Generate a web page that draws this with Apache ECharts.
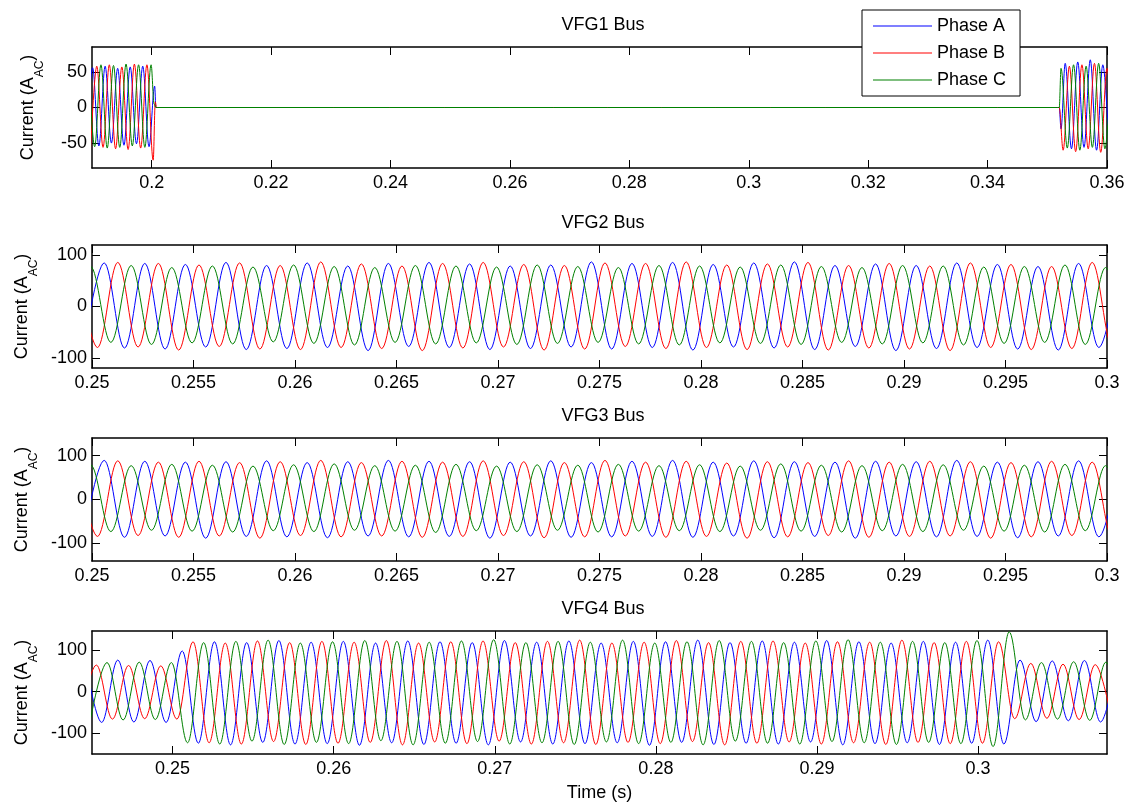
<!DOCTYPE html>
<html>
<head>
<meta charset="utf-8">
<title>VFG bus currents</title>
<script src="https://cdn.jsdelivr.net/npm/echarts@6/dist/echarts.min.js"></script>
<style>
  html, body { margin: 0; padding: 0; background: #fff; }
  #chart { width: 1128px; height: 803px; }
</style>
</head>
<body>
<div id="chart"></div>
<script>
// ---- traces: extremum times (s) and currents (A) ----

// VFG1 bus: burst until ~0.2007 s, flat, burst again from ~0.352 s
const vfg1TimeA = [0.18905, 0.1901, 0.19115, 0.1922, 0.19325, 0.1943, 0.19535, 0.1964, 0.19745, 0.1985,
  0.19955, 0.2005, 0.2007, 0.2010, 0.3517, 0.3520, 0.3523, 0.3530, 0.35405, 0.3551,
  0.35615, 0.3572, 0.35825, 0.3593, 0.36035];
const vfg1A = [-52, 56, -54, 58, -50, 55, -53, 57, -51, 58,
  -55, 30, 0, 0, 0, 0, -30, 62, -58, 64,
  -56, 67, -60, 60, -55];
const vfg1TimeB = [0.18975, 0.1908, 0.19185, 0.1929, 0.19395, 0.1950, 0.19605, 0.1971, 0.19815, 0.1992,
  0.20025, 0.2006, 0.2008, 0.2010, 0.3517, 0.3520, 0.35265, 0.3537, 0.35475, 0.3558,
  0.35685, 0.3579, 0.35895, 0.3600, 0.36105];
const vfg1B = [-60, 58, -56, 60, -58, 57, -59, 61, -57, 60,
  -74, 8, 0, 0, 0, 0, -60, 58, -62, 60,
  -58, 62, -63, 55, -56];
const vfg1TimeC = [0.1894, 0.19045, 0.1915, 0.19255, 0.1936, 0.19465, 0.1957, 0.19675, 0.1978, 0.19885,
  0.1999, 0.2004, 0.2007, 0.2010, 0.3517, 0.3520, 0.3523, 0.35335, 0.3544, 0.35545,
  0.3565, 0.35755, 0.3586, 0.35965, 0.3607];
const vfg1C = [58, -55, 60, -57, 59, -56, 61, -54, 60, -56,
  60, 5, 0, 0, 0, 0, 55, -57, 60, -60,
  58, -56, 62, -58, 55];

// VFG2 / VFG3 buses share the same timing
const vfg23TimeA = [0.2496, 0.2506, 0.2516, 0.2526, 0.2536, 0.2546, 0.2556, 0.2566, 0.2576, 0.2586,
  0.2596, 0.2606, 0.2616, 0.2626, 0.2636, 0.2646, 0.2656, 0.2666, 0.2676, 0.2686,
  0.2696, 0.2706, 0.2716, 0.2726, 0.2736, 0.2746, 0.2756, 0.2766, 0.2776, 0.2786,
  0.2796, 0.2806, 0.2816, 0.2826, 0.2836, 0.2846, 0.2856, 0.2866, 0.2876, 0.2886,
  0.2896, 0.2906, 0.2916, 0.2926, 0.2936, 0.2946, 0.2956, 0.2966, 0.2976, 0.2986,
  0.2996, 0.3006];
const vfg23TimeB = [0.24927, 0.25027, 0.25127, 0.25227, 0.25327, 0.25427, 0.25527, 0.25627, 0.25727, 0.25827,
  0.25927, 0.26027, 0.26127, 0.26227, 0.26327, 0.26427, 0.26527, 0.26627, 0.26727, 0.26827,
  0.26927, 0.27027, 0.27127, 0.27227, 0.27327, 0.27427, 0.27527, 0.27627, 0.27727, 0.27827,
  0.27927, 0.28027, 0.28127, 0.28227, 0.28327, 0.28427, 0.28527, 0.28627, 0.28727, 0.28827,
  0.28927, 0.29027, 0.29127, 0.29227, 0.29327, 0.29427, 0.29527, 0.29627, 0.29727, 0.29827,
  0.29927, 0.30027, 0.30127];
const vfg23TimeC = [0.24893, 0.24993, 0.25093, 0.25193, 0.25293, 0.25393, 0.25493, 0.25593, 0.25693, 0.25793,
  0.25893, 0.25993, 0.26093, 0.26193, 0.26293, 0.26393, 0.26493, 0.26593, 0.26693, 0.26793,
  0.26893, 0.26993, 0.27093, 0.27193, 0.27293, 0.27393, 0.27493, 0.27593, 0.27693, 0.27793,
  0.27893, 0.27993, 0.28093, 0.28193, 0.28293, 0.28393, 0.28493, 0.28593, 0.28693, 0.28793,
  0.28893, 0.28993, 0.29093, 0.29193, 0.29293, 0.29393, 0.29493, 0.29593, 0.29693, 0.29793,
  0.29893, 0.29993, 0.30093];

const vfg2A = [-80, 85, -81, 84, -83, 82, -79, 86, -84, 80,
  -82, 85, -80, 79, -86, 84, -78, 86, -80, 83,
  -84, 79, -82, 81, -79, 87, -83, 84, -80, 86,
  -85, 82, -79, 85, -81, 87, -84, 80, -78, 83,
  -86, 80, -82, 85, -80, 82, -83, 78, -85, 84,
  -80, 82];
const vfg2B = [82, -80, 86, -79, 84, -85, 81, -78, 85, -83,
  80, -84, 87, -80, 83, -82, 79, -86, 84, -81,
  86, -79, 82, -85, 80, -83, 85, -78, 84, -82,
  87, -80, 81, -84, 83, -79, 86, -85, 80, -81,
  84, -83, 79, -86, 85, -80, 82, -84, 78, -82,
  86, -79, 83];
const vfg2C = [-72, 78, -70, 80, -74, 76, -71, 79, -73, 77,
  -69, 81, -72, 78, -75, 76, -70, 80, -73, 79,
  -71, 77, -74, 81, -72, 78, -70, 76, -73, 80,
  -75, 79, -71, 77, -72, 81, -74, 78, -70, 76,
  -73, 80, -71, 79, -75, 77, -72, 78, -70, 81,
  -74, 76, -72];

const vfg3A = [-84, 89, -86, 87, -83, 85, -88, 86, -84, 88,
  -85, 84, -87, 86, -83, 89, -85, 87, -84, 86,
  -88, 85, -83, 88, -86, 84, -85, 87, -84, 89,
  -86, 85, -83, 88, -87, 86, -84, 85, -88, 87,
  -83, 86, -85, 89, -84, 85, -87, 86, -83, 88,
  -85, 84];
const vfg3B = [86, -84, 88, -82, 85, -86, 87, -83, 84, -88,
  86, -82, 89, -85, 84, -83, 87, -86, 85, -84,
  88, -82, 86, -87, 84, -85, 89, -83, 85, -86,
  87, -84, 83, -88, 86, -85, 84, -82, 88, -86,
  85, -84, 87, -83, 86, -88, 84, -85, 87, -82,
  85, -86, 84];
const vfg3C = [-71, 79, -73, 77, -70, 80, -72, 78, -74, 76,
  -71, 79, -73, 81, -70, 77, -72, 78, -75, 80,
  -71, 76, -73, 79, -70, 78, -74, 80, -72, 77,
  -71, 79, -73, 76, -70, 81, -72, 78, -74, 77,
  -71, 80, -73, 79, -70, 76, -72, 78, -74, 80,
  -71, 77, -73];

// VFG4 bus: load step up at ~0.2505 s, back down at ~0.302 s
const vfg4TimeA = [0.2446, 0.2456, 0.2466, 0.2476, 0.2486, 0.2496, 0.2506, 0.2516, 0.2526, 0.2536,
  0.2546, 0.2556, 0.2566, 0.2576, 0.2586, 0.2596, 0.2606, 0.2616, 0.2626, 0.2636,
  0.2646, 0.2656, 0.2666, 0.2676, 0.2686, 0.2696, 0.2706, 0.2716, 0.2726, 0.2736,
  0.2746, 0.2756, 0.2766, 0.2776, 0.2786, 0.2796, 0.2806, 0.2816, 0.2826, 0.2836,
  0.2846, 0.2856, 0.2866, 0.2876, 0.2886, 0.2896, 0.2906, 0.2916, 0.2926, 0.2936,
  0.2946, 0.2956, 0.2966, 0.2976, 0.2986, 0.2996, 0.3006, 0.3016, 0.3026, 0.3036,
  0.3046, 0.3056, 0.3066, 0.3076, 0.3086];
const vfg4A = [72, -74, 76, -73, 75, -74, 98,
  -124, 120, -128, 118, -122, 123, -126, 119, -125, 121,
  -129, 117, -123, 122, -127, 120, -124, 118, -128, 123,
  -121, 119, -126, 122, -125, 117, -123, 121, -129, 120,
  -122, 124, -127, 118, -124, 122, -126, 119, -121, 123,
  -128, 120, -125, 117, -123, 121, -127, 119, -124, 124,
  -126,
  76, -72, 74, -70, 75, -73, 70];
const vfg4TimeB = [0.24427, 0.24527, 0.24627, 0.24727, 0.24827, 0.24927, 0.25027, 0.25127, 0.25227, 0.25327,
  0.25427, 0.25527, 0.25627, 0.25727, 0.25827, 0.25927, 0.26027, 0.26127, 0.26227, 0.26327,
  0.26427, 0.26527, 0.26627, 0.26727, 0.26827, 0.26927, 0.27027, 0.27127, 0.27227, 0.27327,
  0.27427, 0.27527, 0.27627, 0.27727, 0.27827, 0.27927, 0.28027, 0.28127, 0.28227, 0.28327,
  0.28427, 0.28527, 0.28627, 0.28727, 0.28827, 0.28927, 0.29027, 0.29127, 0.29227, 0.29327,
  0.29427, 0.29527, 0.29627, 0.29727, 0.29827, 0.29927, 0.30027, 0.30127, 0.30227, 0.30327,
  0.30427, 0.30527, 0.30627, 0.30727, 0.30827];
const vfg4B = [-62, 64, -66, 63, -65, 62, -66,
  120, -123, 117, -126, 122, -120, 118, -127, 121, -124,
  119, -122, 123, -128, 117, -121, 120, -125, 122, -119,
  118, -126, 121, -123, 124, -127, 117, -122, 119, -125,
  123, -120, 118, -128, 121, -124, 122, -121, 117, -126,
  120, -123, 119, -127, 124, -122, 118, -125, 121, -124,
  120,
  -65, 68, -64, 66, -67, 65, -63];
const vfg4TimeC = [0.24493, 0.24593, 0.24693, 0.24793, 0.24893, 0.24993, 0.25093, 0.25193, 0.25293, 0.25393,
  0.25493, 0.25593, 0.25693, 0.25793, 0.25893, 0.25993, 0.26093, 0.26193, 0.26293, 0.26393,
  0.26493, 0.26593, 0.26693, 0.26793, 0.26893, 0.26993, 0.27093, 0.27193, 0.27293, 0.27393,
  0.27493, 0.27593, 0.27693, 0.27793, 0.27893, 0.27993, 0.28093, 0.28193, 0.28293, 0.28393,
  0.28493, 0.28593, 0.28693, 0.28793, 0.28893, 0.28993, 0.29093, 0.29193, 0.29293, 0.29393,
  0.29493, 0.29593, 0.29693, 0.29793, 0.29893, 0.29993, 0.30093, 0.30193, 0.30293, 0.30393,
  0.30493, 0.30593, 0.30693, 0.30793, 0.30893];
const vfg4C = [-62, 70, -68, 71, -67, 70,
  -123, 118, -126, 121, -119, 124, -127, 117, -122, 120,
  -125, 123, -118, 121, -128, 119, -124, 122, -120, 125,
  -126, 118, -123, 121, -127, 119, -121, 124, -125, 117,
  -122, 120, -128, 123, -119, 121, -124, 118, -126, 122,
  -120, 125, -123, 119, -127, 121, -122, 118, -125, 123,
  -132, 144,
  -68, 70, -66, 72, -69, 71, -67];

// tick labels
const xTicks1 = [0.2, 0.22, 0.24, 0.26, 0.28, 0.3, 0.32, 0.34, 0.36];
const xTicks23 = [0.25, 0.255, 0.26, 0.265, 0.27, 0.275, 0.28, 0.285, 0.29, 0.295, 0.3];
const xTicks4 = [0.25, 0.26, 0.27, 0.28, 0.29, 0.3];
const yTicks1 = [-50, 0, 50];
const yTicks234 = [-100, 0, 100];

const titles = ['VFG1 Bus', 'VFG2 Bus', 'VFG3 Bus', 'VFG4 Bus'];
const phaseNames = ['Phase A', 'Phase B', 'Phase C'];
const phaseColors = ['#0000ff', '#ff0000', '#008000'];

// ---- chart ----
const FONT = '"Liberation Sans", Arial, sans-serif';
const pairs = (t, v) => t.map((x, i) => [x, v[i]]);

const panels = [
  { top: 47, height: 121, titleTop: 16, xMin: 0.19, xMax: 0.36, xTicks: xTicks1, yMin: -85, yMax: 85, yTicks: yTicks1,
    data: [pairs(vfg1TimeA, vfg1A), pairs(vfg1TimeB, vfg1B), pairs(vfg1TimeC, vfg1C)] },
  { top: 245, height: 123, titleTop: 214, xMin: 0.25, xMax: 0.3, xTicks: xTicks23, yMin: -120, yMax: 120, yTicks: yTicks234,
    data: [pairs(vfg23TimeA, vfg2A), pairs(vfg23TimeB, vfg2B), pairs(vfg23TimeC, vfg2C)] },
  { top: 438, height: 123, titleTop: 407, xMin: 0.25, xMax: 0.3, xTicks: xTicks23, yMin: -140, yMax: 140, yTicks: yTicks234,
    data: [pairs(vfg23TimeA, vfg3A), pairs(vfg23TimeB, vfg3B), pairs(vfg23TimeC, vfg3C)] },
  { top: 631, height: 123, titleTop: 600, xMin: 0.245, xMax: 0.308, xTicks: xTicks4, yMin: -150, yMax: 146, yTicks: yTicks234,
    data: [pairs(vfg4TimeA, vfg4A), pairs(vfg4TimeB, vfg4B), pairs(vfg4TimeC, vfg4C)] }
];

const axisLine = { onZero: false, lineStyle: { color: '#000', width: 1.5 } };
const labelStyle = { color: '#000', fontSize: 18, fontFamily: FONT };

const grid = [], xAxis = [], yAxis = [], series = [], title = [];

panels.forEach((p, g) => {
  grid.push({ left: 92, width: 1015, top: p.top, height: p.height, outerBoundsMode: 'none', containLabel: false });
  title.push({
    text: titles[g], left: 603, top: p.titleTop, textAlign: 'center', padding: 0,
    textStyle: { fontSize: 18, fontWeight: 'normal', color: '#000', fontFamily: FONT }
  });

  // bottom + top x axes (box with inward ticks)
  [true, false].forEach(bottom => {
    xAxis.push({
      type: 'value', gridIndex: g, position: bottom ? 'bottom' : 'top',
      min: p.xMin, max: p.xMax,
      axisLine: axisLine,
      axisTick: { inside: true, length: 8, customValues: p.xTicks, lineStyle: { color: '#000' } },
      axisLabel: bottom
        ? Object.assign({ customValues: p.xTicks, margin: 6, showMinLabel: true, showMaxLabel: true,
            formatter: v => String(+v.toFixed(3)) }, labelStyle)
        : { show: false },
      splitLine: { show: false },
      name: (bottom && g === 3) ? 'Time (s)' : '',
      nameLocation: 'middle', nameGap: 30,
      nameTextStyle: labelStyle
    });
  });

  // left + right y axes
  [true, false].forEach(left => {
    yAxis.push({
      type: 'value', gridIndex: g, position: left ? 'left' : 'right',
      min: p.yMin, max: p.yMax,
      axisLine: axisLine,
      axisTick: { inside: true, length: 8, customValues: p.yTicks, lineStyle: { color: '#000' } },
      axisLabel: left
        ? Object.assign({ customValues: p.yTicks, margin: 5, showMinLabel: true, showMaxLabel: true }, labelStyle)
        : { show: false },
      splitLine: { show: false },
      name: left ? '{m|Current (A}{s|AC}{m|)}' : '',
      nameLocation: 'middle', nameRotate: 90, nameGap: 46,
      nameTextStyle: {
        color: '#000', fontFamily: FONT,
        rich: {
          m: { fontSize: 18, lineHeight: 36, color: '#000', fontFamily: FONT },
          s: { fontSize: 12, lineHeight: 12, verticalAlign: 'bottom', color: '#000', fontFamily: FONT }
        }
      }
    });
  });

  p.data.forEach((d, k) => {
    series.push({
      name: phaseNames[k], type: 'line',
      xAxisIndex: 2 * g, yAxisIndex: 2 * g,
      data: d,
      showSymbol: false, symbol: 'none',
      smooth: 0.36, smoothMonotone: 'x',
      color: phaseColors[k],
      lineStyle: { width: 1, color: phaseColors[k] },
      silent: true
    });
  });
});

const chart = echarts.init(document.getElementById('chart'), null, { renderer: 'canvas' });
chart.setOption({
  animation: false,
  backgroundColor: '#fff',
  title: title,
  grid: grid,
  xAxis: xAxis,
  yAxis: yAxis,
  legend: {
    data: phaseNames,
    orient: 'vertical', left: 862, top: 10,
    padding: [6, 14, 6, 11], itemGap: 7,
    itemWidth: 59, itemHeight: 1, icon: 'rect',
    backgroundColor: '#fff', borderColor: '#000', borderWidth: 1, borderRadius: 0,
    textStyle: { fontSize: 18, lineHeight: 20, color: '#000', fontFamily: FONT },
    selectedMode: false
  },
  series: series
});
</script>
</body>
</html>
